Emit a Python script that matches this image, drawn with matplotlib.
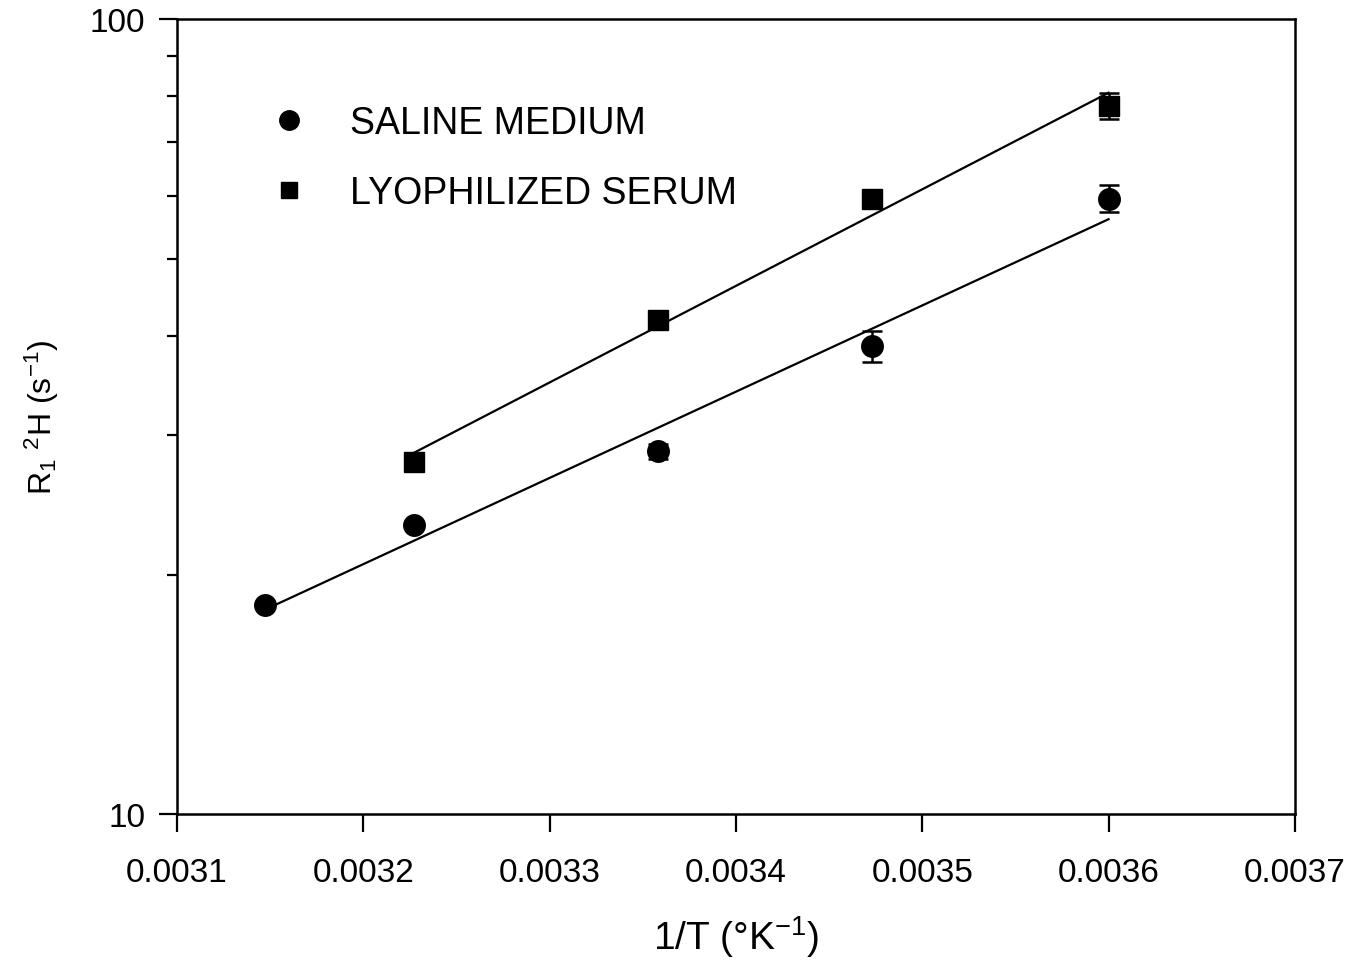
import numpy as np
import matplotlib
matplotlib.use('Agg')
import matplotlib.pyplot as plt
from matplotlib.lines import Line2D
from matplotlib.ticker import FixedLocator, FixedFormatter, NullFormatter

plt.rcParams['font.family'] = ['Liberation Sans', 'DejaVu Sans']
plt.rcParams['mathtext.default'] = 'regular'

# 1/T values (K^-1) and R1 of 2H (s^-1)
saline_x = [0.003147, 0.003227, 0.003358, 0.003473, 0.003600]
saline_y = [18.3, 23.1, 28.6, 38.8, 59.5]
saline_err = [0.0, 0.0, 0.6, 1.7, 2.3]

serum_x = [0.003227, 0.003358, 0.003473, 0.003600]
serum_y = [27.7, 41.8, 59.4, 77.9]
serum_err = [0.0, 0.0, 0.0, 3.0]

x_ticks = [0.0031, 0.0032, 0.0033, 0.0034, 0.0035, 0.0036, 0.0037]
x_tick_labels = ['0.0031', '0.0032', '0.0033', '0.0034', '0.0035', '0.0036', '0.0037']
y_ticks = [10, 100]
y_tick_labels = ['10', '100']


# Exponential fit (straight line on log axis), drawn between first and last point.
def fit_line(x, y):
    x = np.asarray(x)
    k, b = np.polyfit(x, np.log10(y), 1)
    xs = np.array([x.min(), x.max()])
    return xs, 10 ** (k * xs + b)


fig = plt.figure(figsize=(13.46, 9.62), dpi=100)
ax = fig.add_axes([0.1315, 0.1528, 0.8305, 0.826])

for x, y, err, m, ms in [(saline_x, saline_y, saline_err, 'o', 15.5),
                         (serum_x, serum_y, serum_err, 's', 14)]:
    fx, fy = fit_line(x, y)
    ax.plot(fx, fy, color='black', lw=1.6, zorder=2)
    ax.errorbar(x, y, yerr=err, fmt=m, color='black', ms=ms, capsize=7,
                capthick=1.8, elinewidth=1.8, zorder=3)

ax.set_yscale('log')
ax.set_xlim(0.0031, 0.0037)
ax.set_ylim(10, 100)

ax.xaxis.set_major_locator(FixedLocator(x_ticks))
ax.xaxis.set_major_formatter(FixedFormatter(x_tick_labels))
ax.yaxis.set_major_locator(FixedLocator(y_ticks))
ax.yaxis.set_major_formatter(FixedFormatter(y_tick_labels))
ax.yaxis.set_minor_locator(FixedLocator(list(range(20, 100, 10))))
ax.yaxis.set_minor_formatter(NullFormatter())

ax.tick_params(which='major', direction='out', length=13, width=1.6,
               labelsize=24)
ax.tick_params(axis='x', which='major', pad=18)
ax.tick_params(axis='y', which='major', pad=10)
ax.tick_params(which='minor', direction='out', length=7, width=1.6)
for s in ax.spines.values():
    s.set_linewidth(1.8)

ax.set_xlabel('1/T (°K$^{-1}$)', fontsize=28, labelpad=18)
ax.set_ylabel('R$_1$ $^2$H (s$^{-1}$)', fontsize=23)
ax.yaxis.set_label_coords(-0.104, 0.5)

handles = [Line2D([], [], marker='o', color='black', ls='none', ms=14),
           Line2D([], [], marker='s', color='black', ls='none', ms=12)]
ax.legend(handles, ['SALINE MEDIUM', 'LYOPHILIZED SERUM'], loc='upper left',
          bbox_to_anchor=(0.083, 0.892), frameon=False, fontsize=27,
          handlelength=1.0, handletextpad=1.15, labelspacing=0.9,
          borderpad=0, borderaxespad=0)

fig.savefig('out.png', dpi=100)
